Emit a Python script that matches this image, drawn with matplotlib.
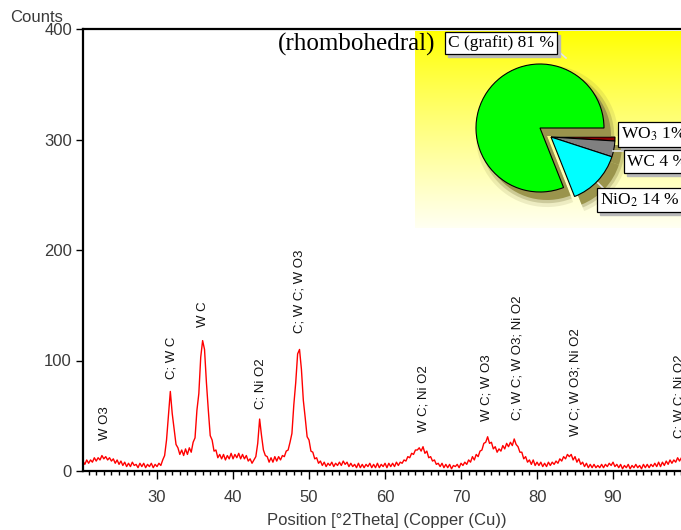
import numpy as np
import matplotlib
matplotlib.use("Agg")
import matplotlib.pyplot as plt
from matplotlib.transforms import offset_copy
from matplotlib.lines import Line2D

plt.rcParams["mathtext.fontset"] = "stix"

# ---- diffraction pattern (0.25 deg steps) ----
two_theta = np.arange(20.25, 99.01, 0.25)
counts = np.array([
    9, 6, 10, 7,   10, 8, 12, 9,   12, 10, 14, 11,   13, 10, 12, 9,        # 20.25-24
    11, 7, 10, 6,   9, 5, 8, 4,   7, 4, 8, 5,   6, 3, 7, 4,                # 24.25-28
    7, 3, 6, 4,   7, 3, 6, 4,   7, 5, 10, 14,   28, 50, 72, 52,            # 28.25-32
    38, 24, 21, 15,   19, 14, 20, 15,   21, 17, 26, 30,   55, 70, 103, 118,   # 32.25-36
    110, 80, 55, 32,   28, 18, 19, 12,   15, 11, 15, 10,   14, 11, 16, 11,    # 36.25-40
    15, 12, 16, 11,   15, 11, 14, 9,   11, 7, 10, 13,   25, 47, 32, 19,       # 40.25-44
    14, 13, 8, 12,   8, 13, 9, 13,   10, 14, 13, 18,   19, 26, 34, 60,        # 44.25-48
    80, 106, 110, 92,   64, 48, 31, 28,   18, 17, 11, 12,   7, 9, 5, 8,      # 48.25-52
    4, 7, 5, 8,   4, 7, 5, 8,   5, 9, 6, 8,   4, 7, 4, 6,                    # 52.25-56
    3, 7, 3, 6,   3, 6, 4, 7,   3, 6, 3, 7,   3, 6, 4, 7,                    # 56.25-60
    3, 7, 4, 7,   4, 8, 5, 8,   7, 10, 9, 13,   12, 16, 15, 19,              # 60.25-64
    19, 21, 18, 22,   16, 18, 12, 13,   9, 10, 6, 7,   4, 7, 3, 6,           # 64.25-68
    3, 6, 2, 5,   4, 6, 3, 7,   5, 8, 6, 10,   8, 13, 10, 15,                # 68.25-72
    13, 18, 19, 25,   26, 31, 25, 26,   20, 22, 17, 20,   18, 23, 20, 25,    # 72.25-76
    22, 26, 23, 29,   24, 22, 17, 17,   11, 13, 8, 10,   6, 10, 5, 8,        # 76.25-80
    5, 8, 4, 7,   4, 8, 5, 8,   6, 9, 7, 11,   9, 13, 11, 15,                # 80.25-84
    13, 15, 10, 13,   8, 11, 6, 8,   4, 7, 3, 6,   3, 6, 3, 5,               # 84.25-88
    3, 6, 3, 6,   4, 7, 5, 8,   4, 6, 3, 6,   2, 5, 3, 6,                    # 88.25-92
    2, 5, 3, 6,   3, 5, 2, 6,   3, 6, 3, 6,   4, 7, 4, 8,                    # 92.25-96
    4, 8, 5, 9,   6, 10, 7, 10,   8, 12, 9, 12,                              # 96.25-99
])

# ---- phase annotations above the peaks ----
peak_pos = [23.15, 31.95, 36.05, 43.55, 48.8, 65.0, 73.4, 77.4, 85.0, 98.8]
peak_text_base = [28, 83, 130, 56, 125, 35, 45, 46, 32, 30]
peak_labels = ["W O3", "C; W C", "W C", "C; Ni O2", "C; W C; W O3",
               "W C; Ni O2", "W C; W O3", "C; W C; W O3; Ni O2",
               "W C; W O3; Ni O2", "C; W C; Ni O2"]

# ---- semi-quantitative phase composition ----
phase_names = ["WO$_3$", "WC", "NiO$_2$", "C (grafit)"]
phase_pct = [1, 4, 14, 81]
phase_pct_sep = ["", " ", " ", " "]
phase_colors = ["#8b0000", "#808080", "#00ffff", "#00ff00"]

x_ticks = [30, 40, 50, 60, 70, 80, 90]
y_ticks = [0, 100, 200, 300, 400]

W, H = 681, 530
fig = plt.figure(figsize=(W / 100, H / 100), dpi=100)
fig.patch.set_facecolor("white")


def fx(px):
    return px / W


def fy(py):
    return 1 - py / H


SANS = "Liberation Sans"
SERIF = "Liberation Serif"
GREY = "#3a3a3a"

# ---- main pattern ----
x_lo, x_hi = 20.26, 100.0
px_per_deg = 7.6
ax = fig.add_axes([fx(83), fy(471), (x_hi - x_lo) * px_per_deg / W, (471 - 29) / H])
ax.plot(two_theta, counts, color="#ff0000", lw=1.0)
ax.set_xlim(x_lo, x_hi)
ax.set_ylim(0, 400)

ax.set_xticks(x_ticks)
ax.set_xticks(np.arange(21, 100, 1), minor=True)
ax.set_yticks(y_ticks)
ax.tick_params(axis="x", which="major", length=6, width=1, pad=7.5,
               labelsize=12, labelcolor=GREY, direction="out")
ax.tick_params(axis="x", which="minor", length=3.2, width=1, direction="out")
ax.tick_params(axis="y", which="major", length=5, width=1, pad=3,
               labelsize=12, labelcolor=GREY, direction="out")
for lab in ax.get_xticklabels() + ax.get_yticklabels():
    lab.set_family(SANS)
ax.spines["right"].set_visible(False)
for s in ("left", "bottom", "top"):
    ax.spines[s].set_linewidth(1.6)

for xp, yb, lab in zip(peak_pos, peak_text_base, peak_labels):
    ax.text(xp, yb, lab, rotation=90, ha="center", va="bottom",
            fontsize=9.5, family=SANS, color="#111111")

fig.text(fx(10), fy(17), "Counts", ha="left", va="center",
         fontsize=12, family=SANS, color=GREY)
fig.text(fx(387), fy(520), "Position [°2Theta] (Copper (Cu))", ha="center",
         va="center", fontsize=12, family=SANS, color=GREY)

# ---- composition inset: gradient panel ----
bg = fig.add_axes([fx(415), fy(228), (700 - 415) / W, (228 - 31) / H])
g = np.linspace(0, 1, 256)[:, None]
panel = np.ones((256, 1, 3))
panel[..., 2] = 0.95 * g ** 0.9
bg.imshow(panel, aspect="auto", extent=[0, 1, 0, 1], origin="upper")
bg.axis("off")

fig.text(fx(278), fy(44), "(rhombohedral)", ha="left", va="center",
         fontsize=18, family=SERIF, color="black")

# ---- composition pie ----
R = 64.0
half = 110
pax = fig.add_axes([fx(540 - half), fy(128 + half), 2 * half / W, 2 * half / H])
split = (11 / R, -9 / R)
shadow_off = (7 / R, -8 / R)

for rad, alpha, col in [(1.11, 0.12, "#6d6830"), (1.05, 0.25, "#6d6830"),
                        (1.0, 1.0, "#9a944c")]:
    sw, _ = pax.pie(phase_pct, colors=[col] * 4, startangle=0, counterclock=False,
                    radius=rad, center=shadow_off,
                    wedgeprops=dict(linewidth=0, alpha=alpha))
    for w in sw[:3]:
        w.set_center((split[0] + shadow_off[0], split[1] + shadow_off[1]))

wedges, _ = pax.pie(phase_pct, colors=phase_colors, startangle=0,
                    counterclock=False, radius=1.0,
                    wedgeprops=dict(edgecolor="black", linewidth=0.8))
for w in wedges[:3]:
    w.set_center(split)
pax.set_xlim(-half / R, half / R)
pax.set_ylim(-half / R, half / R)
pax.set_aspect("equal")
pax.axis("off")

# leader lines
for (ax0, ay0), (ax1, ay1) in [((598, 183), (604, 189)),
                               ((613, 151), (624, 151)),
                               ((557, 50), (566, 58))]:
    fig.add_artist(Line2D([fx(ax0), fx(ax1)], [fy(ay0), fy(ay1)],
                          color="#e6e6e6", lw=1.2))

label_pos = [(621, 134.5), (627, 161.5), (600, 200), (448, 43)]
for (lx, ly), name, pct, sep in zip(label_pos, phase_names, phase_pct, phase_pct_sep):
    s = f"{name} {pct}{sep}%"
    sh = offset_copy(fig.transFigure, fig=fig, x=3, y=-3, units="dots")
    fig.text(fx(lx), fy(ly), s, transform=sh, ha="left", va="center",
             fontsize=12.5, family=SERIF, color="#b8b8b8",
             bbox=dict(boxstyle="square,pad=0.2", fc="#b8b8b8", ec="#b8b8b8", lw=1))
    fig.text(fx(lx), fy(ly), s, ha="left", va="center", fontsize=12.5,
             family=SERIF, color="black",
             bbox=dict(boxstyle="square,pad=0.2", fc="white", ec="black", lw=0.9))

fig.savefig("out.png", dpi=100)
